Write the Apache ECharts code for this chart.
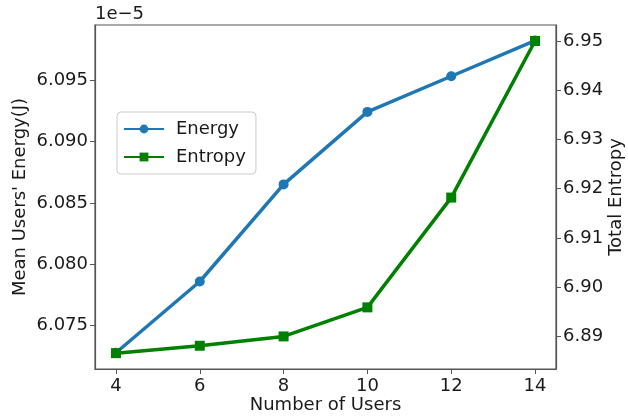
<!DOCTYPE html>
<html><head><meta charset="utf-8">
<script src="https://cdn.jsdelivr.net/npm/echarts@6/dist/echarts.min.js"></script>
<style>html,body{margin:0;padding:0;background:#fff}#c{width:628px;height:419px}</style>
</head><body><div id="c"></div>
<script>
const users = [4, 6, 8, 10, 12, 14];
const energy = [6.0728, 6.0786, 6.0865, 6.0924, 6.0953, 6.0982]; // x1e-5 J
const entropy = [6.8866, 6.8881, 6.8900, 6.8959, 6.9182, 6.9500];
const xTicks = [4, 6, 8, 10, 12, 14];
const leftTicks = [6.075, 6.080, 6.085, 6.090, 6.095];
const rightTicks = [6.89, 6.90, 6.91, 6.92, 6.93, 6.94, 6.95];

const font = 'DejaVu Sans';
const axisCol = '#555';
const txt = '#1a1a1a';
const chart = echarts.init(document.getElementById('c'), null, {renderer: 'canvas'});
chart.setOption({
  animation: false,
  backgroundColor: '#fff',
  textStyle: {fontFamily: font},
  grid: {left: 95, top: 25, right: 72, bottom: 50, containLabel: false, outerBoundsMode: 'none',
    show: true, borderColor: axisCol, borderWidth: 1.2, backgroundColor: 'transparent'},
  graphic: [{type: 'text', left: 95, top: 5, style: {text: '1e\u22125', font: '18px "DejaVu Sans"', fill: txt}}],
  legend: {
    left: 117, top: 112, orient: 'vertical',
    data: ['Energy', 'Entropy'],
    itemWidth: 40, itemHeight: 11, itemGap: 10,
    padding: [8, 10, 8, 6],
    borderColor: '#ccc', borderWidth: 1, borderRadius: 4,
    backgroundColor: '#fff',
    textStyle: {fontFamily: font, fontSize: 18, color: txt, padding: [0, 0, 0, 7]}
  },
  xAxis: {
    type: 'value', min: 3.5, max: 14.5,
    name: 'Number of Users', nameLocation: 'middle', nameGap: 27, nameMoveOverlap: false,
    nameTextStyle: {fontFamily: font, fontSize: 18, color: txt},
    axisLine: {lineStyle: {color: axisCol, width: 1.2}},
    axisTick: {show: true, length: 5, customValues: xTicks, lineStyle: {color: axisCol}},
    axisLabel: {customValues: xTicks, fontSize: 18, color: txt, margin: 8, fontFamily: font},
    splitLine: {show: false}
  },
  yAxis: [{
    type: 'value', min: 6.07148, max: 6.09947, position: 'left',
    name: "Mean Users' Energy(J)", nameLocation: 'middle', nameGap: 66, nameMoveOverlap: false,
    nameTextStyle: {fontFamily: font, fontSize: 18, color: txt},
    axisLine: {show: true, lineStyle: {color: axisCol, width: 1.2}},
    axisTick: {show: true, length: 5, customValues: leftTicks, lineStyle: {color: axisCol}},
    axisLabel: {customValues: leftTicks, fontSize: 18, color: txt, margin: 7, fontFamily: font,
      formatter: v => v.toFixed(3)},
    splitLine: {show: false}
  }, {
    type: 'value', min: 6.88338, max: 6.95325, position: 'right',
    name: 'Total Entropy', nameLocation: 'middle', nameGap: 51, nameMoveOverlap: false,
    nameTextStyle: {fontFamily: font, fontSize: 18, color: txt},
    axisLine: {show: true, lineStyle: {color: axisCol, width: 1.2}},
    axisTick: {show: true, length: 5, customValues: rightTicks, lineStyle: {color: axisCol}},
    axisLabel: {customValues: rightTicks, fontSize: 18, color: txt, margin: 7, fontFamily: font,
      formatter: v => v.toFixed(2)},
    splitLine: {show: false}
  }],
  series: [{
    name: 'Energy', type: 'line', yAxisIndex: 0,
    data: users.map((u, i) => [u, energy[i]]),
    symbol: 'circle', symbolSize: 10,
    lineStyle: {color: '#1f77b4', width: 3.5},
    itemStyle: {color: '#1f77b4'}
  }, {
    name: 'Entropy', type: 'line', yAxisIndex: 1,
    data: users.map((u, i) => [u, entropy[i]]),
    symbol: 'rect', symbolSize: 10,
    lineStyle: {color: '#008000', width: 3.5},
    itemStyle: {color: '#008000'}
  }]
});
</script></body></html>
